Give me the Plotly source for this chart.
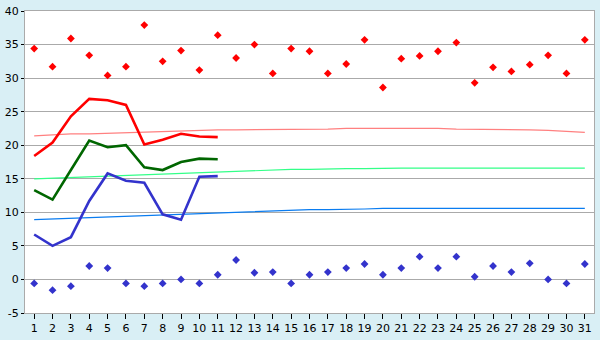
import plotly.graph_objects as go

days = list(range(1, 32))

max_points = [34.4, 31.7, 35.9, 33.4, 30.4, 31.7, 37.9, 32.5, 34.1, 31.2,
              36.4, 33.0, 35.0, 30.7, 34.4, 34.0, 30.7, 32.1, 35.7, 28.6,
              32.9, 33.3, 34.0, 35.3, 29.3, 31.6, 31.0, 32.0, 33.4, 30.7, 35.7]

min_points = [-0.6, -1.6, -1.0, 2.0, 1.7, -0.6, -1.0, -0.6, 0.0, -0.6,
              0.7, 2.9, 1.0, 1.1, -0.6, 0.7, 1.1, 1.7, 2.3, 0.7,
              1.7, 3.4, 1.7, 3.4, 0.4, 2.0, 1.1, 2.4, 0.0, -0.6, 2.3]

actual_days = list(range(1, 12))
actual_max = [18.4, 20.4, 24.3, 26.9, 26.7, 26.0, 20.1, 20.8, 21.7, 21.3, 21.2]
actual_mean = [13.3, 11.9, 16.3, 20.7, 19.7, 20.0, 16.7, 16.3, 17.5, 18.0, 17.9]
actual_min = [6.7, 5.0, 6.3, 11.7, 15.8, 14.7, 14.4, 9.7, 8.9, 15.3, 15.4]

normal_max = [21.4, 21.6, 21.7, 21.7, 21.8, 21.9, 22.0, 22.0, 22.1, 22.2,
              22.3, 22.3, 22.3, 22.4, 22.4, 22.4, 22.4, 22.5, 22.5, 22.6,
              22.6, 22.5, 22.5, 22.4, 22.4, 22.4, 22.3, 22.3, 22.2, 22.1, 21.9]
normal_mean = [15.0, 15.1, 15.3, 15.4, 15.5, 15.6, 15.7, 15.8, 15.9, 16.0,
               16.1, 16.2, 16.3, 16.4, 16.4, 16.4, 16.5, 16.5, 16.5, 16.6,
               16.6, 16.6, 16.6, 16.6, 16.6, 16.6, 16.6, 16.6, 16.6, 16.6, 16.6]
normal_min = [8.9, 9.0, 9.1, 9.2, 9.3, 9.4, 9.5, 9.6, 9.8, 9.9,
              10.0, 10.0, 10.1, 10.2, 10.4, 10.4, 10.4, 10.4, 10.5, 10.6,
              10.6, 10.7, 10.7, 10.7, 10.7, 10.7, 10.7, 10.7, 10.7, 10.6, 10.6]

fig = go.Figure()

fig.add_trace(go.Scatter(x=days, y=normal_max, mode="lines",
                         line=dict(color="#ff8080", width=1.2)))
fig.add_trace(go.Scatter(x=days, y=normal_mean, mode="lines",
                         line=dict(color="#33ff88", width=1.2)))
fig.add_trace(go.Scatter(x=days, y=normal_min, mode="lines",
                         line=dict(color="#0a7cf0", width=1.2)))

fig.add_trace(go.Scatter(x=actual_days, y=actual_max, mode="lines",
                         line=dict(color="#ff0000", width=2.6)))
fig.add_trace(go.Scatter(x=actual_days, y=actual_mean, mode="lines",
                         line=dict(color="#006600", width=2.6)))
fig.add_trace(go.Scatter(x=actual_days, y=actual_min, mode="lines",
                         line=dict(color="#3333cc", width=2.6)))

fig.add_trace(go.Scatter(x=days, y=max_points, mode="markers",
                         marker=dict(symbol="diamond", size=6, color="#ff0000")))
fig.add_trace(go.Scatter(x=days, y=min_points, mode="markers",
                         marker=dict(symbol="diamond", size=6, color="#3333cc")))

fig.update_layout(
    width=600, height=340,
    margin=dict(l=20, r=5, t=5, b=20),
    paper_bgcolor="#d9eff5",
    plot_bgcolor="#ffffff",
    showlegend=False,
    font=dict(family="DejaVu Sans, Verdana, sans-serif", size=11, color="#000000"),
)
fig.update_xaxes(
    range=[0.5, 31.5], tickmode="array", tickvals=days,
    ticktext=[str(d) for d in days],
    showgrid=False, zeroline=False,
    showline=True, linecolor="#aaaaaa", linewidth=1, mirror=True,
    ticks="outside", ticklen=5, tickcolor="#000000", tickwidth=1,
    ticklabeloverflow="allow",
)
fig.update_yaxes(
    range=[-5, 40], tickmode="array", tickvals=list(range(-5, 41, 5)),
    ticktext=[str(v) for v in range(-5, 41, 5)],
    showgrid=True, gridcolor="#aaaaaa", gridwidth=1,
    zeroline=False,
    showline=True, linecolor="#aaaaaa", linewidth=1, mirror=True,
    ticks="outside", ticklen=3, tickcolor="#000000", tickwidth=1,
    ticklabeloverflow="allow",
)

fig.write_html("out.html")
